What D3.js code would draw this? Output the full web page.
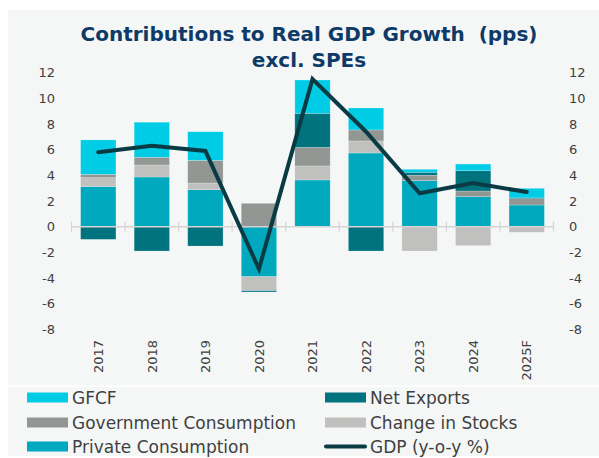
<!DOCTYPE html>
<html>
<head>
<meta charset="utf-8">
<script src="https://cdn.jsdelivr.net/npm/d3@7"></script>
<style>
  html, body { margin: 0; padding: 0; background: #ffffff; }
  svg { display: block; }
  text { font-family: "DejaVu Sans", sans-serif; }
</style>
</head>
<body>
<svg id="chart" width="599" height="458"></svg>
<script>
// Contributions to real GDP growth (percentage points), excl. SPEs
const years = ["2017", "2018", "2019", "2020", "2021", "2022", "2023", "2024", "2025F"];
const privateConsumption = [3.12, 3.87, 2.88, -3.90, 3.64, 5.74, 3.59, 2.34, 1.69];
const changeInStocks     = [0.70, 0.94, 0.52, -1.09, 1.09, 0.94, -1.90, -1.48, -0.44];
const govConsumption     = [0.26, 0.60, 1.77, 1.82, 1.45, 0.86, 0.42, 0.44, 0.49];
const netExports         = [-0.99, -1.90, -1.51, -0.10, 2.65, -1.90, 0.23, 1.58, 0.06];
const gfcf               = [2.68, 2.73, 2.23, 0.00, 2.60, 1.71, 0.23, 0.52, 0.75];
const gdpGrowth          = [5.8, 6.3, 5.9, -3.3, 11.5, 7.4, 2.6, 3.4, 2.7];
const yTicks = [-8, -6, -4, -2, 0, 2, 4, 6, 8, 10, 12];

const series = [
  { key: "private", name: "Private Consumption",    values: privateConsumption, color: "#00a9bd" },
  { key: "stocks",  name: "Change in Stocks",       values: changeInStocks,     color: "#c0c1be" },
  { key: "gov",     name: "Government Consumption", values: govConsumption,     color: "#939794" },
  { key: "nx",      name: "Net Exports",            values: netExports,         color: "#00737e" },
  { key: "gfcf",    name: "GFCF",                   values: gfcf,               color: "#00cce6" }
];
const colorOf = Object.fromEntries(series.map(s => [s.key, s.color]));
const lineColor = "#0a3b45";

const rows = years.map((y, i) => {
  const r = { year: y };
  series.forEach(s => { r[s.key] = s.values[i]; });
  return r;
});

const svg = d3.select("#chart");

// panel background
svg.append("rect").attr("x", 8).attr("y", 10).attr("width", 591).attr("height", 446)
  .attr("fill", "#f5f7f7");
svg.append("line").attr("x1", 8).attr("x2", 599).attr("y1", 386).attr("y2", 386)
  .attr("stroke", "#ffffff").attr("stroke-width", 1.5);

// title
const title = svg.append("g").attr("fill", "#0e3a68").attr("font-weight", "bold")
  .attr("font-size", 20).attr("text-anchor", "middle");
title.append("text").attr("x", 309).attr("y", 41).style("white-space", "pre")
  .text("Contributions to Real GDP Growth  (pps)");
title.append("text").attr("x", 309).attr("y", 67).text("excl. SPEs");

// scales
const x = d3.scaleBand().domain(years).range([71.5, 553.5])
  .paddingInner(0.34).paddingOuter(0.17);
const y = d3.scaleLinear().domain([-8, 12]).range([329.3, 72.7]);

// y tick labels on both sides
const tickColor = "#404040";
svg.append("g").selectAll("text").data(yTicks).join("text")
  .attr("x", 55).attr("y", d => y(d)).attr("dy", "0.36em")
  .attr("text-anchor", "end").attr("font-size", 13).attr("fill", tickColor)
  .text(d => d);
svg.append("g").selectAll("text").data(yTicks).join("text")
  .attr("x", 569).attr("y", d => y(d)).attr("dy", "0.36em")
  .attr("text-anchor", "start").attr("font-size", 13).attr("fill", tickColor)
  .text(d => d);

// stacked bars
const stack = d3.stack().keys(series.map(s => s.key)).offset(d3.stackOffsetDiverging);
const layers = stack(rows);
svg.append("g").selectAll("g").data(layers).join("g")
  .attr("fill", d => colorOf[d.key])
  .selectAll("rect").data(d => d).join("rect")
  .attr("x", d => x(d.data.year))
  .attr("width", x.bandwidth())
  .attr("y", d => y(Math.max(d[0], d[1])))
  .attr("height", d => Math.abs(y(d[0]) - y(d[1])))
  .attr("stroke", "rgba(255,255,255,0.35)").attr("stroke-width", 0.6);

// zero axis with tick marks at category boundaries
const axisColor = "#d8d3d3";
const bounds = years.map(d => x(d) - x.step() * x.paddingInner() / 2)
  .concat([x.range()[1]]);
svg.append("line").attr("x1", x.range()[0]).attr("x2", x.range()[1])
  .attr("y1", y(0)).attr("y2", y(0)).attr("stroke", axisColor).attr("stroke-width", 1.5);
svg.append("g").selectAll("line").data(bounds).join("line")
  .attr("x1", d => d).attr("x2", d => d)
  .attr("y1", y(0) - 5).attr("y2", y(0) + 5)
  .attr("stroke", axisColor).attr("stroke-width", 1.2);

// category labels, rotated
svg.append("g").selectAll("text").data(years).join("text")
  .attr("transform", d => `translate(${x(d) + x.bandwidth() / 2},340) rotate(-90)`)
  .attr("text-anchor", "end").attr("dy", "0.36em")
  .attr("font-size", 13).attr("fill", tickColor)
  .text(d => d);

// GDP growth line
const line = d3.line()
  .x((d, i) => x(years[i]) + x.bandwidth() / 2)
  .y(d => y(d));
svg.append("path").datum(gdpGrowth).attr("d", line)
  .attr("fill", "none").attr("stroke", lineColor).attr("stroke-width", 4)
  .attr("stroke-linejoin", "miter").attr("stroke-linecap", "round");

// legend
const legendItems = [
  { name: "GFCF", color: colorOf.gfcf, type: "rect" },
  { name: "Net Exports", color: colorOf.nx, type: "rect" },
  { name: "Government Consumption", color: colorOf.gov, type: "rect" },
  { name: "Change in Stocks", color: colorOf.stocks, type: "rect" },
  { name: "Private Consumption", color: colorOf.private, type: "rect" },
  { name: "GDP (y-o-y %)", color: lineColor, type: "line" }
];
const legCols = [27, 325];
const legRows = [397.5, 422.5, 446.5];
const leg = svg.append("g").selectAll("g").data(legendItems).join("g")
  .attr("transform", (d, i) => `translate(${legCols[i % 2]},${legRows[Math.floor(i / 2)]})`);
leg.filter(d => d.type === "rect").append("rect")
  .attr("x", 0).attr("y", -5).attr("width", 41).attr("height", 10)
  .attr("fill", d => d.color);
leg.filter(d => d.type === "line").append("line")
  .attr("x1", 1).attr("x2", 40).attr("y1", 0).attr("y2", 0)
  .attr("stroke", d => d.color).attr("stroke-width", 4).attr("stroke-linecap", "round");
leg.append("text").attr("x", 45).attr("y", 0).attr("dy", "0.36em")
  .attr("font-size", 17).attr("fill", tickColor)
  .text(d => d.name);
</script>
</body>
</html>
